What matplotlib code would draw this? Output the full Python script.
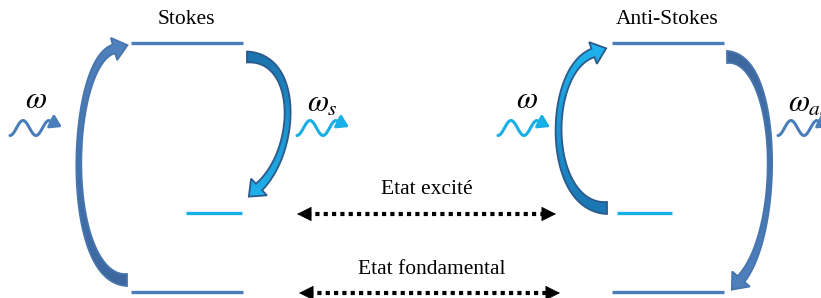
import numpy as np
import matplotlib
matplotlib.use('Agg')
import matplotlib.pyplot as plt
from matplotlib.colors import to_rgb
from matplotlib.patches import FancyArrowPatch, Polygon
from matplotlib.path import Path

plt.rcParams['font.family'] = ['Liberation Serif', 'DejaVu Serif']
plt.rcParams['mathtext.fontset'] = 'stix'

W, H = 821, 298

BLUE = '#4a7ebb'
CYAN = '#18aee6'

# niveaux d'energie : (x0, x1, y, couleur)
levels = [
    (131, 243, 43, BLUE), (186, 242, 213, CYAN), (131, 243, 292, BLUE),
    (612, 724, 43, BLUE), (617, 672, 213, CYAN), (612, 724, 292, BLUE),
]

# fleches courbes (bezier cubique queue -> base de la tete)
# (p0, c1, c2, p3, w_queue, w_milieu, w_tete, couleur_queue, couleur_tete, bord)
curved = [
    ((127, 280), (62, 280), (68, 62), (114, 49), 12, 5, 9, '#3d679f', '#4f81bd', '#4775ae'),
    ((247, 57), (300, 57), (298, 150), (259, 187), 11, 6, 9, '#1c74ad', '#1fb2ec', '#2c5a8c'),
    ((607, 208), (545, 208), (545, 70), (593, 53), 12, 6, 9, '#1a78b3', '#1fb2ec', '#2c5a8c'),
    ((727, 57), (780, 57), (783, 230), (741, 279), 12, 4.5, 9, '#3d679f', '#4f81bd', '#4775ae'),
]

# photons : (x, y, couleur, label, x_label, y_label)
photons = [
    (10, 128, BLUE, r'$\omega$', 36, 100),
    (297, 128, CYAN, r'$\omega_s$', 322, 104),
    (498, 128, CYAN, r'$\omega$', 527, 100),
    (778, 128, BLUE, r'$\omega_{as}$', 788, 104),
]

titles = [('Stokes', 186, 19), ('Anti-Stokes', 667, 19)]
states = [('Etat excité', 427, 189, 297, 556, 214),
          ('Etat fondamental', 432, 270, 299, 560, 293)]


def block_arrow(ax, p0, c1, c2, p3, w0, wm, w1, c_tail, c_head, edge,
                head_w=23, head_l=14):
    p0, c1, c2, p3 = (np.array(p, float) for p in (p0, c1, c2, p3))
    t = np.linspace(0, 1, 120)[:, None]
    pts = ((1 - t) ** 3 * p0 + 3 * (1 - t) ** 2 * t * c1
           + 3 * (1 - t) * t ** 2 * c2 + t ** 3 * p3)
    der = (3 * (1 - t) ** 2 * (c1 - p0) + 6 * (1 - t) * t * (c2 - c1)
           + 3 * t ** 2 * (p3 - c2))
    tan = der / np.linalg.norm(der, axis=1, keepdims=True)
    nrm = np.column_stack([-tan[:, 1], tan[:, 0]])
    wc = 2 * wm - 0.5 * (w0 + w1)
    w = ((1 - t) ** 2 * w0 + 2 * t * (1 - t) * wc + t ** 2 * w1)
    left = pts + nrm * w / 2
    right = pts - nrm * w / 2
    tip = p3 + tan[-1] * head_l
    wl = p3 + nrm[-1] * head_w / 2
    wr = p3 - nrm[-1] * head_w / 2
    verts = np.vstack([left, wl, tip, wr, right[::-1]])
    poly = Polygon(verts, closed=True, fc='none', ec=edge, lw=1.3, zorder=3)
    ax.add_patch(poly)
    # degrade queue -> tete, suivant y
    xmin, ymin = verts.min(axis=0)
    xmax, ymax = verts.max(axis=0)
    ys = np.linspace(ymin, ymax, 200)
    f = np.clip((ys - p0[1]) / (tip[1] - p0[1]), 0, 1)[:, None]
    col = (1 - f) * np.array(to_rgb(c_tail)) + f * np.array(to_rgb(c_head))
    img = np.repeat(col[:, None, :], 2, axis=1)
    im = ax.imshow(img, extent=(xmin, xmax, ymax, ymin), origin='upper',
                   aspect='auto', zorder=2, interpolation='bilinear')
    im.set_clip_path(poly)


fig = plt.figure(figsize=(W / 100, H / 100), dpi=100)
ax = fig.add_axes([0, 0, 1, 1])

for x0, x1, y, c in levels:
    ax.plot([x0, x1], [y, y], color=c, lw=2.4, solid_capstyle='butt')

for p0, c1, c2, p3, w0, wm, w1, ct, ch, ec in curved:
    block_arrow(ax, p0, c1, c2, p3, w0, wm, w1, ct, ch, ec)

for x, y, c, lab, lx, ly in photons:
    t = np.linspace(0, 1.5, 40)
    xs = x + 26 * t
    ys = y + 7.5 * np.cos(2 * np.pi * t)
    verts = list(zip(xs, ys)) + [(x + 46, y - 4), (x + 52, y - 1)]
    p = FancyArrowPatch(path=Path(verts),
                        arrowstyle='-|>,head_length=0.55,head_width=0.35',
                        mutation_scale=12, color=c, lw=2.2)
    ax.add_patch(p)
    ax.text(lx, ly, lab, fontsize=22,
            ha='left' if lab.endswith('as}$') else 'center',
            va='center', color='black')

for lab, x, y in titles:
    ax.text(x, y, lab, fontsize=15.5, ha='center', va='center')

for lab, tx, ty, x0, x1, y in states:
    ax.text(tx, ty, lab, fontsize=15.5, ha='center', va='center')
    ax.plot([x0 + 10, x1 - 10], [y, y], color='black', lw=3,
            ls=(0, (1, 1)), solid_capstyle='butt')
    for xe, xs in ((x0, x0 + 12), (x1, x1 - 12)):
        ax.annotate('', xy=(xe, y), xytext=(xs, y),
                    arrowprops=dict(arrowstyle='-|>,head_length=0.8,head_width=0.4',
                                    color='black', lw=0.5, mutation_scale=12,
                                    shrinkA=0, shrinkB=0))

ax.set_xlim(0, W)
ax.set_ylim(H, 0)
ax.axis('off')

fig.savefig('out.png', dpi=100)
